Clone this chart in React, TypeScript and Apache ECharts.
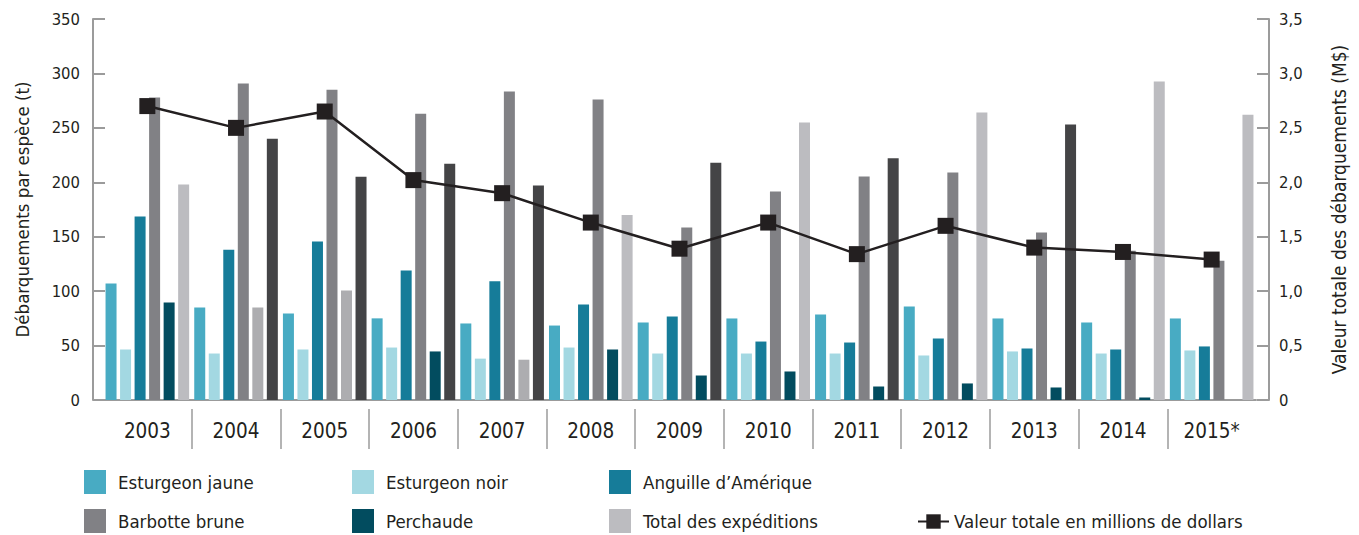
import React, { useEffect, useRef } from 'react';
import * as echarts from 'echarts';

// ---- Data ----
const years = ['2003', '2004', '2005', '2006', '2007', '2008', '2009', '2010', '2011', '2012', '2013', '2014', '2015*'];
const esturgeonJaune = [107, 85, 79.5, 75, 70.3, 68.4, 71.2, 74.9, 78.5, 85.9, 74.9, 71.2, 74.9];
const esturgeonNoir = [46.4, 42.7, 46.4, 48.2, 38, 48.2, 42.7, 42.7, 42.7, 40.9, 44.6, 42.7, 45.5];
const anguille = [168.6, 138, 145.6, 119, 109, 87.7, 76.7, 53.7, 52.8, 56.5, 47.3, 46.4, 49.2];
const barbotte = [278, 290.7, 285, 263, 283.4, 276, 158.5, 191.5, 205.3, 209, 153.9, 137, 128];
const perchaude = [89.6, null, null, 44.6, null, 46.4, 22.5, 26.2, 12.4, 15.2, 11.5, 2.3, null];
const serieGrise = [null, 85, 100.6, null, 37, null, null, null, null, null, null, null, null];
const totalExpeditions = [198, null, null, null, null, 170, null, 255, null, 264, null, 292.6, 262];
const serieFoncee = [null, 240, 205, 217, 197, null, 218, null, 222, null, 253, null, null];
const valeurTotale = [2.7, 2.5, 2.65, 2.02, 1.9, 1.63, 1.39, 1.63, 1.34, 1.6, 1.4, 1.36, 1.29];

const leftAxis = { min: 0, max: 350, interval: 50 };
const rightAxis = { min: 0, max: 3.5, interval: 0.5 };

const FONT = "'Liberation Sans Narrow', 'Arial Narrow', 'DejaVu Sans Condensed', sans-serif";
const TEXT = '#231f20';
const AXIS = '#9b9b9b';

const C = {
  jaune: '#48abc3',
  noir: '#a3d8e2',
  anguille: '#167c99',
  barbotte: '#818185',
  perchaude: '#024c5f',
  grise: '#adadb0',
  total: '#bcbcc0',
  foncee: '#444446',
  ligne: '#231f20',
};

export default function App() {
  const ref = useRef<HTMLDivElement>(null);

  useEffect(() => {
    if (!ref.current) return;
    const chart = echarts.init(ref.current, undefined, { renderer: 'svg' });

    const bar = (name: string, data: (number | null)[], color: string, stack?: string) => ({
      name,
      type: 'bar',
      data,
      stack,
      barWidth: 11,
      barGap: '32%',
      itemStyle: { color },
      xAxisIndex: 0,
      yAxisIndex: 0,
    });

    const legendText = { fontSize: 18.5, color: TEXT, fontFamily: FONT, padding: [0, 0, 0, 7] };
    const mkLegend = (name: string, left: number, top: number) => ({
      data: [name],
      left,
      top,
      padding: 0,
      icon: 'rect',
      itemWidth: 22,
      itemHeight: 24,
      selectedMode: false,
      textStyle: legendText,
    });

    const boundaries = [...years, ''];

    chart.setOption({
      animation: false,
      backgroundColor: '#ffffff',
      grid: { left: 103, right: 103, top: 19, bottom: 135 },
      legend: [
        mkLegend('Esturgeon jaune', 84, 470),
        mkLegend('Esturgeon noir', 352, 470),
        mkLegend("Anguille d\u2019Amérique", 609, 470),
        mkLegend('Barbotte brune', 84, 509),
        mkLegend('Perchaude', 352, 509),
        mkLegend('Total des expéditions', 609, 509),
        {
          data: ['Valeur totale en millions de dollars'],
          left: 917,
          top: 512,
          padding: 0,
          itemWidth: 31,
          itemHeight: 18,
          selectedMode: false,
          textStyle: { fontSize: 18.5, color: TEXT, fontFamily: FONT },
        },
      ],
      xAxis: [
        {
          type: 'category',
          data: years,
          position: 'bottom',
          axisLine: { show: true, lineStyle: { color: AXIS, width: 2 } },
          axisTick: { show: false },
          axisLabel: { show: false },
        },
        {
          type: 'category',
          data: years,
          position: 'bottom',
          axisLine: { show: false, onZero: false },
          axisTick: { show: false },
          axisLabel: { show: true, fontSize: 20.5, color: TEXT, fontFamily: FONT, margin: 20 },
        },
        {
          type: 'category',
          data: boundaries,
          boundaryGap: false,
          position: 'bottom',
          offset: 9,
          axisLine: { show: false, onZero: false },
          axisTick: {
            show: true,
            length: 40,
            interval: (i: number) => i > 0 && i < boundaries.length - 1,
            lineStyle: { color: AXIS, width: 1.5 },
          },
          axisLabel: { show: false },
        },
      ],
      yAxis: [
        {
          type: 'value',
          position: 'left',
          offset: 10,
          ...leftAxis,
          name: 'Débarquements par espèce (t)',
          nameLocation: 'middle',
          nameRotate: 90,
          nameGap: 61,
          nameTextStyle: { fontSize: 18.5, color: TEXT, fontFamily: FONT },
          axisLine: { show: true, lineStyle: { color: AXIS, width: 2 } },
          axisTick: { show: true, inside: true, length: 12, lineStyle: { color: AXIS, width: 2 } },
          splitLine: { show: false },
          axisLabel: { fontSize: 16.5, color: TEXT, fontFamily: FONT, margin: 13 },
        },
        {
          type: 'value',
          position: 'right',
          offset: 13,
          ...rightAxis,
          name: 'Valeur totale des débarquements (M$)',
          nameLocation: 'middle',
          nameRotate: 90,
          nameGap: 60,
          nameTextStyle: { fontSize: 19, color: TEXT, fontFamily: FONT },
          axisLine: { show: true, lineStyle: { color: AXIS, width: 2 } },
          axisTick: { show: true, inside: true, length: 12, lineStyle: { color: AXIS, width: 2 } },
          splitLine: { show: false },
          axisLabel: {
            fontSize: 16.5,
            color: TEXT,
            fontFamily: FONT,
            margin: 10,
            formatter: (v: number) => (v === 0 ? '0' : v.toFixed(1).replace('.', ',')),
          },
        },
      ],
      series: [
        bar('Esturgeon jaune', esturgeonJaune, C.jaune),
        bar('Esturgeon noir', esturgeonNoir, C.noir),
        bar("Anguille d\u2019Amérique", anguille, C.anguille),
        bar('Barbotte brune', barbotte, C.barbotte),
        bar('Perchaude', perchaude, C.perchaude, 'slot5'),
        bar('Série grise', serieGrise, C.grise, 'slot5'),
        bar('Total des expéditions', totalExpeditions, C.total, 'slot6'),
        bar('Série gris foncé', serieFoncee, C.foncee, 'slot6'),
        {
          name: 'Valeur totale en millions de dollars',
          type: 'line',
          data: valeurTotale,
          xAxisIndex: 0,
          yAxisIndex: 1,
          symbol: 'rect',
          symbolSize: 16,
          z: 10,
          itemStyle: { color: C.ligne },
          lineStyle: { color: C.ligne, width: 2.5 },
        },
      ],
    });

    return () => chart.dispose();
  }, []);

  return (
    <div
      ref={ref}
      style={{ position: 'absolute', left: 0, top: 0, width: 1359, height: 535, background: '#fff' }}
    />
  );
}
